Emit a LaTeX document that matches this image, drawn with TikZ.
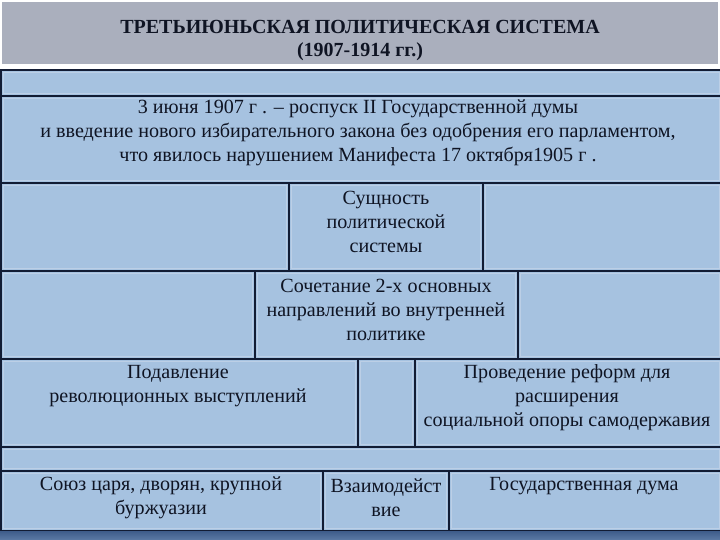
\documentclass[tikz,border=0pt]{standalone}
\usepackage{fontspec}
\setmainfont{Liberation Serif}
\usetikzlibrary{fit}
\definecolor{cellblue}{RGB}{166,194,224}
\definecolor{titlegray}{RGB}{170,175,189}
\definecolor{linenavy}{RGB}{18,28,52}
\definecolor{innerlight}{RGB}{188,207,230}
\definecolor{bandtop}{RGB}{62,92,138}
\definecolor{bandbot}{RGB}{92,122,165}
\definecolor{txt}{RGB}{15,20,35}
\tikzset{
  cellbox/.style={draw=linenavy, line width=1.3pt, fill=cellblue, inner sep=0pt},
  celltext/.style={text=txt, align=center, inner sep=0pt, font=\fontsize{20.1}{24}\selectfont},
  titletext/.style={text=txt, align=center, inner sep=0pt, font=\fontsize{20}{23}\selectfont\bfseries},
}
\newcommand{\mycell}[5]{%
  \node[cellbox, fit={(#2,#3) (#4,#5)}] (#1) {};
  \draw[innerlight, line width=0.8pt] ([shift={(3pt,-3pt)}]#1.north west) rectangle ([shift={(-3pt,3pt)}]#1.south east);
}
\begin{document}
\begin{tikzpicture}[x=1pt,y=-1pt]
\useasboundingbox (0,0) rectangle (720,540);
\fill[white] (0,0) rectangle (720,540);
% title band
\node[fill=titlegray, inner sep=0pt, fit={(2,2) (718,64)}] (titleband) {};
\node[titletext] (title) at (360,41) {ТРЕТЬИЮНЬСКАЯ ПОЛИТИЧЕСКАЯ СИСТЕМА\\(1907-1914 гг.)};
% rows
\mycell{r0}{1}{70}{722}{96}
\mycell{r1}{1}{96}{722}{183}
\mycell{r2a}{1}{183}{289}{271}
\mycell{r2b}{289}{183}{483}{271}
\mycell{r2c}{483}{183}{722}{271}
\mycell{r3a}{1}{271}{255}{359}
\mycell{r3b}{255}{271}{518}{359}
\mycell{r3c}{518}{271}{722}{359}
\mycell{r4a}{1}{359}{358}{447}
\mycell{r4b}{358}{359}{415}{447}
\mycell{r4c}{415}{359}{722}{447}
\mycell{r5}{1}{447}{722}{471}
\mycell{r6a}{1}{471}{323}{531}
\mycell{r6b}{323}{471}{449}{531}
\mycell{r6c}{449}{471}{722}{531}
% bottom band
\shade[top color=bandtop, bottom color=bandbot] (0,531) rectangle (720,540);
% texts
\node[celltext] (t1) at (358,133) {3 июня 1907 г . – роспуск II Государственной думы\\и введение нового избирательного закона без одобрения его парламентом,\\что явилось нарушением Манифеста 17 октября1905 г .};
\node[celltext] (t2) at (386,222) {Сущность\\политической\\системы};
\node[celltext] (t3) at (386,310) {Сочетание 2-х основных\\направлений во внутренней\\политике};
\node[celltext] (t4) at (178,386) {Подавление\\революционных выступлений};
\node[celltext] (t5) at (567,398) {Проведение реформ для\\расширения\\социальной опоры самодержавия};
\node[celltext] (t6) at (161,498) {Союз царя, дворян, крупной\\буржуазии};
\node[celltext] (t7) at (386,498) {Взаимодейст\\вие};
\node[celltext] (t8) at (584,486) {Государственная дума};
\end{tikzpicture}
\end{document}
